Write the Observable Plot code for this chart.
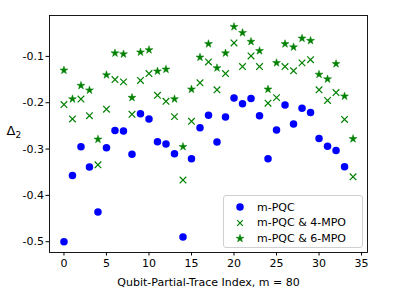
<!DOCTYPE html>
<html><head>
<meta charset="utf-8">
<script src="https://cdn.jsdelivr.net/npm/d3@7"></script>
<script src="https://cdn.jsdelivr.net/npm/@observablehq/plot@0.6"></script>
<style>
body{margin:0;background:#fff;font-family:"DejaVu Sans",sans-serif;}
#wrap{position:relative;width:407px;height:293px;}
#legend{position:absolute;left:223px;top:195px;width:138px;height:51px;border:1px solid #d0d0d0;border-radius:3px;background:rgba(255,255,255,0.85);font-size:11px;color:#000;}
#legend .row{position:absolute;left:0;height:16px;display:flex;align-items:center;}
#legend svg{position:absolute;left:9px;}
#legend span{position:absolute;left:33px;white-space:nowrap;}
</style>
</head><body>
<div id="wrap"></div>
<script>
const index = [0,1,2,3,4,5,6,7,8,9,10,11,12,13,14,15,16,17,18,19,20,21,22,23,24,25,26,27,28,29,30,31,32,33,34];
const mPQC = [-0.50,-0.357,-0.295,-0.339,-0.436,-0.297,-0.260,-0.261,-0.311,-0.224,-0.235,-0.284,-0.289,-0.310,-0.490,-0.321,-0.254,-0.227,-0.285,-0.231,-0.190,-0.202,-0.191,-0.228,-0.321,-0.259,-0.205,-0.246,-0.212,-0.221,-0.277,-0.294,-0.303,-0.338];
const mpo4 = [-0.204,-0.235,-0.192,-0.228,-0.334,-0.214,-0.150,-0.155,-0.225,-0.152,-0.137,-0.184,-0.197,-0.230,-0.367,-0.240,-0.157,-0.112,-0.172,-0.137,-0.071,-0.122,-0.099,-0.122,-0.201,-0.189,-0.122,-0.131,-0.114,-0.107,-0.172,-0.195,-0.178,-0.236,-0.360];
const mpo6 = [-0.130,-0.192,-0.163,-0.173,-0.279,-0.140,-0.093,-0.095,-0.189,-0.091,-0.086,-0.132,-0.128,-0.192,-0.295,-0.171,-0.102,-0.073,-0.125,-0.093,-0.036,-0.049,-0.068,-0.088,-0.171,-0.114,-0.073,-0.080,-0.061,-0.066,-0.139,-0.149,-0.116,-0.186,-0.278];
const seriesNames = ["m-PQC","m-PQC & 4-MPO","m-PQC & 6-MPO"];
const xTicks = [0,5,10,15,20,25,30,35];
const yTicks = [-0.1,-0.2,-0.3,-0.4,-0.5];
const xLabel = "Qubit-Partial-Trace Index, m = 80";
const yLabelMain = "Δ";
const yLabelSub = "2";

const blue = "#0000ff", green = "#008000";

const chart = Plot.plot({
  width: 407, height: 293,
  marginLeft: 49, marginTop: 15, marginRight: 40, marginBottom: 41,
  style: {fontFamily: "DejaVu Sans", fontSize: "11px", color: "#000", background: "#fff"},
  x: {domain: [-1.7, 35.7]},
  y: {domain: [-0.5233, -0.0117]},
  marks: [
    Plot.axisX({ticks: xTicks, tickSize: 3.5, tickPadding: 3, label: null, tickFormat: d => String(d)}),
    Plot.axisY({ticks: yTicks, tickSize: 3.5, tickPadding: 2, label: null, tickFormat: d => d.toFixed(1).replace("−","-")}),
    Plot.dot(mPQC, {x: (d, i) => index[i], y: d => d, r: 3.75, fill: blue, stroke: "none", symbol: "circle"}),
    Plot.dot(mpo4, {x: (d, i) => index[i], y: d => d, r: 3.1, stroke: green, strokeWidth: 1.2, symbol: "times"}),
    Plot.dot(mpo6, {x: (d, i) => index[i], y: d => d, r: 2.5, fill: green, stroke: green, strokeWidth: 0.5, symbol: "star"}),
    Plot.frame({stroke: "#000", strokeWidth: 0.9}),
    Plot.text([xLabel], {frameAnchor: "bottom", text: d => d, dy: 30, lineAnchor: "middle", fontSize: 11}),
    Plot.text([yLabelMain], {frameAnchor: "left", text: d => d, dx: -43, dy: -3, lineAnchor: "middle", fontSize: 13}),
    Plot.text([yLabelSub], {frameAnchor: "left", text: d => d, dx: -34, dy: 1, lineAnchor: "middle", fontSize: 9})
  ]
});
const wrap = document.getElementById("wrap");
wrap.appendChild(chart);

// legend
const legend = document.createElement("div");
legend.id = "legend";
const symbols = [
  `<circle cx="7" cy="8" r="3.75" fill="${blue}"/>`,
  `<path d="M4.2,5.2L9.8,10.8M9.8,5.2L4.2,10.8" stroke="${green}" stroke-width="1.2" fill="none"/>`,
  `<path d="${d3.symbol(d3.symbolStar, 19.6)()}" transform="translate(7,8.5)" fill="${green}" stroke="${green}" stroke-width="0.5"/>`
];
seriesNames.forEach((name, i) => {
  const row = document.createElement("div");
  row.className = "row";
  row.style.top = (3 + i * 15.6) + "px";
  row.innerHTML = `<svg width="14" height="16" style="top:0">${symbols[i]}</svg><span>${name}</span>`;
  legend.appendChild(row);
});
wrap.appendChild(legend);
</script>
</body></html>
